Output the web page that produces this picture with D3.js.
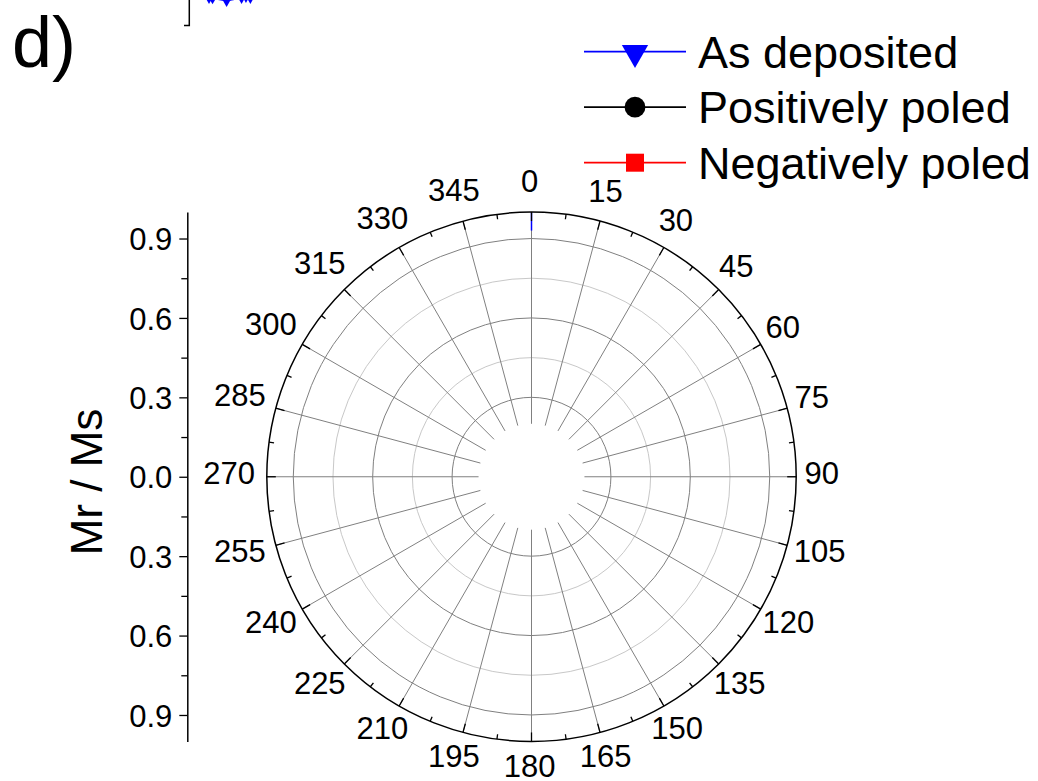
<!DOCTYPE html>
<html>
<head>
<meta charset="utf-8">
<script src="https://cdn.jsdelivr.net/npm/d3@7"></script>
<style>
  html, body { margin: 0; padding: 0; background: #fff; }
  svg { display: block; font-family: "Liberation Sans", Arial, sans-serif; }
</style>
</head>
<body>
<svg id="chart" width="1038" height="781"></svg>
<script>
// ---- data ----
const angleTicks = [0, 15, 30, 45, 60, 75, 90, 105, 120, 135, 150, 165,
                    180, 195, 210, 225, 240, 255, 270, 285, 300, 315, 330, 345];
const angleMinorTicks = angleTicks.map(a => a + 7.5);
const angleLabels = ["0", "15", "30", "45", "60", "75", "90", "105", "120", "135", "150", "165",
                     "180", "195", "210", "225", "240", "255", "270", "285", "300", "315", "330", "345"];
const radialMajor = [0.3, 0.6, 0.9];
const radialMinor = [0.45, 0.75];
const radialAxisTicks = [-0.9, -0.6, -0.3, 0.0, 0.3, 0.6, 0.9];
const radialAxisMinor = [-0.75, -0.45, -0.15, 0.15, 0.45, 0.75];
const innerGap = 0.2;                       // spokes start here
const seriesNames = ["As deposited", "Positively poled", "Negatively poled"];
const seriesColors = ["#0000ff", "#000000", "#ff0000"];
const seriesSymbols = [d3.symbolTriangle, d3.symbolCircle, d3.symbolSquare];
// visible part of the "As deposited" trace (theta in degrees, Mr/Ms)
const asDepTheta = [0, 0];
const asDepR = [1.0, 0.93];
// trace fragments of the panel above, clipped at the page edge
const upperX = [0, 0.4, 2, 3.7, 4.2, 4.7];
const upperY = [0.3, 0.32, 0.45, 0.3, 0.25, 0.3];

const svg = d3.select("#chart");
const cx = 531.5, cy = 476.75, R = 264.7;

const rScale = d3.scaleLinear().domain([0, 1]).range([0, R]);
const aScale = d3.scaleLinear().domain([0, 360]).range([0, 2 * Math.PI]);
const pt = (deg, r) => {
  const a = aScale(deg), rr = rScale(r);
  return [cx + rr * Math.sin(a), cy - rr * Math.cos(a)];
};

// ---- grid ----
const grid = svg.append("g");
grid.selectAll("circle.minor").data(radialMinor).join("circle")
  .attr("cx", cx).attr("cy", cy).attr("r", d => rScale(d))
  .attr("fill", "none").attr("stroke", "#c8c8c8").attr("stroke-width", 1);
grid.selectAll("circle.major").data(radialMajor).join("circle")
  .attr("cx", cx).attr("cy", cy).attr("r", d => rScale(d))
  .attr("fill", "none").attr("stroke", "#808080").attr("stroke-width", 1);
grid.selectAll("line.spoke").data(angleTicks).join("line")
  .attr("x1", d => pt(d, innerGap)[0]).attr("y1", d => pt(d, innerGap)[1])
  .attr("x2", d => pt(d, 1)[0]).attr("y2", d => pt(d, 1)[1])
  .attr("stroke", "#808080").attr("stroke-width", 1);

// ---- data trace ----
const line = d3.line().x(d => pt(d[0], d[1])[0]).y(d => pt(d[0], d[1])[1]);
svg.append("path")
  .attr("d", line(asDepTheta.map((t, i) => [t, asDepR[i]])))
  .attr("fill", "none").attr("stroke", seriesColors[0]).attr("stroke-width", 1.5);

// ---- outer circle and angular ticks ----
svg.append("circle").attr("cx", cx).attr("cy", cy).attr("r", R)
  .attr("fill", "none").attr("stroke", "#000").attr("stroke-width", 1.5);
const tickLen = (len) => (d) => {
  const a = aScale(d);
  return { x1: cx + R * Math.sin(a), y1: cy - R * Math.cos(a),
           x2: cx + (R - len) * Math.sin(a), y2: cy - (R - len) * Math.cos(a) };
};
[[angleTicks, 9], [angleMinorTicks, 5]].forEach(([vals, len]) => {
  const f = tickLen(len);
  svg.append("g").selectAll("line").data(vals).join("line")
    .attr("x1", d => f(d).x1).attr("y1", d => f(d).y1)
    .attr("x2", d => f(d).x2).attr("y2", d => f(d).y2)
    .attr("stroke", "#000").attr("stroke-width", 1.3);
});

// ---- angular labels ----
const fs = 31, gap = 10, halfH = 17.8, dxL = -1.8, dyL = -3.8;
const labG = svg.append("g").attr("font-size", fs).attr("fill", "#000").attr("text-anchor", "middle");
angleTicks.forEach((deg, i) => {
  const t = labG.append("text").text(angleLabels[i]);
  const w = t.node().getBBox().width;
  const a = aScale(deg), s = Math.sin(a), c = Math.cos(a);
  const sup = Math.sqrt((s * w / 2) ** 2 + (c * halfH) ** 2);
  const rr = R + gap + sup;
  t.attr("x", cx + rr * s + dxL).attr("y", cy - rr * c + dyL + 0.358 * fs);
});

// ---- radial (Mr/Ms) axis on the left ----
const yScale = d3.scaleLinear().domain([-1, 1]).range([cy + R, cy - R]);
const axX = 187.3;
const yAxis = d3.axisLeft(yScale).tickValues(radialAxisTicks).tickSize(8).tickSizeOuter(0)
  .tickPadding(7).tickFormat(d => Math.abs(d).toFixed(1));
const ax = svg.append("g").attr("transform", `translate(${axX},0)`).call(yAxis);
ax.select(".domain").attr("stroke-width", 1.5);
ax.selectAll(".tick line").attr("stroke-width", 1.3);
ax.selectAll(".tick text").attr("font-size", fs).attr("font-family", "Liberation Sans, Arial, sans-serif")
  .attr("dy", "0.358em");
const yMinor = d3.axisLeft(yScale).tickValues(radialAxisMinor).tickSize(6).tickSizeOuter(0).tickFormat("");
const axm = svg.append("g").attr("transform", `translate(${axX},0)`).call(yMinor);
axm.select(".domain").remove();
axm.selectAll(".tick line").attr("stroke-width", 1.3);

svg.append("text").attr("transform", `translate(102,482) rotate(-90)`)
  .attr("text-anchor", "middle").attr("font-size", 44).text("Mr / Ms");

// ---- panel letter ----
svg.append("text").attr("x", 12).attr("y", 67).attr("font-size", 72).text("d)");

// ---- legend ----
const legX0 = 584, legX1 = 686, legRowY = [51.7, 107.2, 162.7];
const lg = svg.append("g");
seriesNames.forEach((name, i) => {
  const y = legRowY[i];
  lg.append("line").attr("x1", legX0).attr("x2", legX1).attr("y1", y).attr("y2", y)
    .attr("stroke", seriesColors[i]).attr("stroke-width", 1.8);
  const size = i === 0 ? 300 : (i === 1 ? 340 : 324);
  lg.append("path").attr("d", d3.symbol().type(seriesSymbols[i]).size(size)())
    .attr("transform", `translate(${(legX0 + legX1) / 2},${y + (i === 0 ? 1 : 0)})` + (i === 0 ? " rotate(180)" : ""))
    .attr("fill", seriesColors[i]);
  lg.append("text").attr("x", 698).attr("y", y + 16).attr("font-size", 45).text(name);
});

// ---- cropped edge of the panel above ----
const ux = d3.scaleLinear().domain([0, 5]).range([209, 253]);
const uy = d3.scaleLinear().domain([0, 1]).range([-8, 12]);
svg.append("path").attr("d", "M184,25.5H189.3V0").attr("fill", "none").attr("stroke", "#000").attr("stroke-width", 1.5);
const frag = svg.append("g");
frag.append("path")
  .attr("d", d3.line().x(d => ux(d[0])).y(d => uy(d[1]))(upperX.map((x, i) => [x, upperY[i]])))
  .attr("fill", "none").attr("stroke", "#0000ff").attr("stroke-width", 1.2);
frag.selectAll("path.m").data(upperX).join("path")
  .attr("class", "m")
  .attr("d", d3.symbol().type(d3.symbolTriangle).size(45)())
  .attr("transform", (d, i) => `translate(${ux(d)},${uy(upperY[i])}) rotate(180)`)
  .attr("fill", "#0000ff");
</script>
</body>
</html>
